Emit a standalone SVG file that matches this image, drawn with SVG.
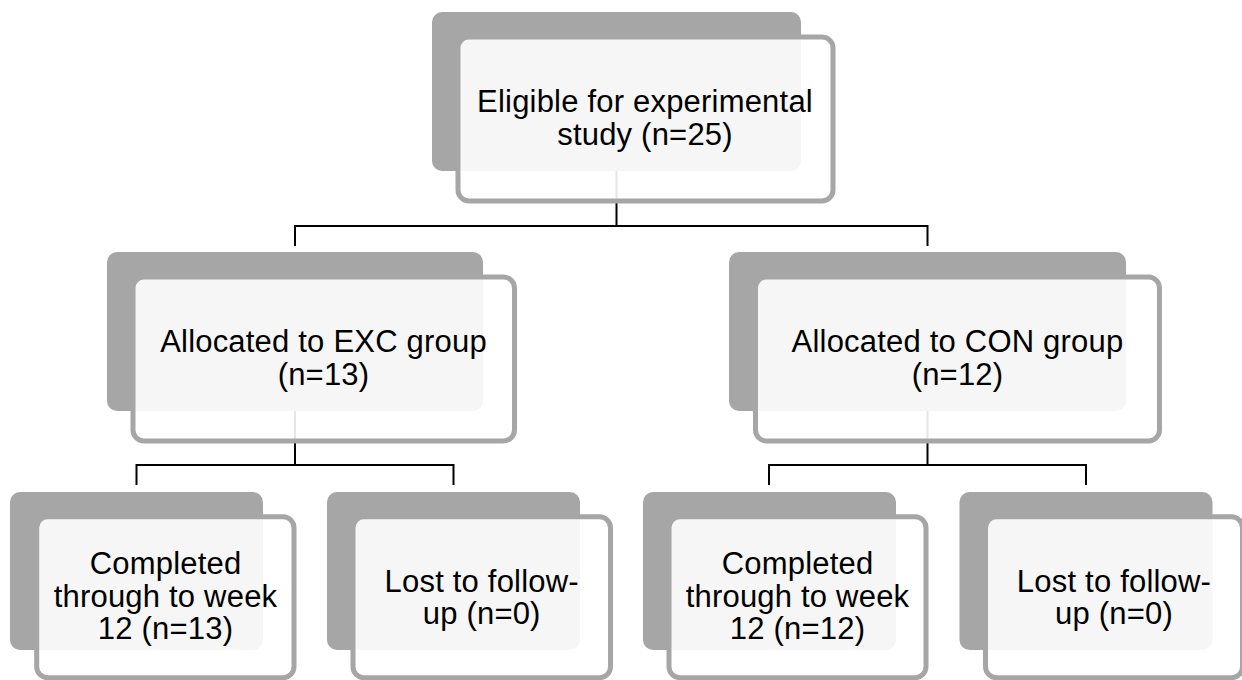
<svg xmlns="http://www.w3.org/2000/svg" width="1242" height="680" viewBox="0 0 1242 680">
<style>
.back{fill:#a6a6a6;stroke:none}
.front{fill:#ffffff;fill-opacity:0.9;stroke:#a6a6a6;stroke-width:5}
.lbl{font-family:"Liberation Sans",Arial,sans-serif;font-size:31px;fill:#000;text-anchor:middle;letter-spacing:0.2px}
.conn{fill:none;stroke:#000;stroke-width:2}
</style>
<rect width="1242" height="680" fill="#ffffff"/>
<g id="connectors">
<path class="conn" d="M295 246 V226 H927.5 V246 M616.5 171 V226"/>
<path class="conn" d="M295 411 V465 M136.5 485 V465 H453.5 V485"/>
<path class="conn" d="M927.5 411 V465 M769 485 V465 H1086 V485"/>
</g>
<g id="eligible">
<rect class="back" x="432" y="12" width="369" height="159" rx="10"/>
<rect class="front" x="458" y="37" width="375" height="164" rx="11"/>
<text class="lbl" x="645" y="112">Eligible for experimental</text>
<text class="lbl" x="645" y="145">study (n=25)</text>
</g>
<g id="exc">
<rect class="back" x="107" y="252" width="376" height="159" rx="10"/>
<rect class="front" x="133" y="277" width="381.5" height="164" rx="11"/>
<text class="lbl" x="323.5" y="352">Allocated to EXC group</text>
<text class="lbl" x="323.5" y="385">(n=13)</text>
</g>
<g id="con">
<rect class="back" x="729" y="252" width="397" height="159" rx="10"/>
<rect class="front" x="755.5" y="277" width="404" height="164" rx="11"/>
<text class="lbl" x="957.5" y="352">Allocated to CON group</text>
<text class="lbl" x="957.5" y="385">(n=12)</text>
</g>
<g id="exc-completed">
<rect class="back" x="10" y="492" width="253" height="158" rx="10"/>
<rect class="front" x="36.7" y="516.7" width="257.3" height="161" rx="11"/>
<text class="lbl" x="165.5" y="574">Completed</text>
<text class="lbl" x="165.5" y="606.5">through to week</text>
<text class="lbl" x="165.5" y="638.5">12 (n=13)</text>
</g>
<g id="exc-lost">
<rect class="back" x="327" y="492" width="253" height="158" rx="10"/>
<rect class="front" x="353" y="516.7" width="257.5" height="161" rx="11"/>
<text class="lbl" x="481.7" y="591.5">Lost to follow-</text>
<text class="lbl" x="481.7" y="623.5">up (n=0)</text>
</g>
<g id="con-completed">
<rect class="back" x="643" y="492" width="253" height="158" rx="10"/>
<rect class="front" x="669" y="516.7" width="257" height="161" rx="11"/>
<text class="lbl" x="797.5" y="574">Completed</text>
<text class="lbl" x="797.5" y="606.5">through to week</text>
<text class="lbl" x="797.5" y="638.5">12 (n=12)</text>
</g>
<g id="con-lost">
<rect class="back" x="959.5" y="492" width="253" height="158" rx="10"/>
<rect class="front" x="985.5" y="516.7" width="257" height="161" rx="11"/>
<text class="lbl" x="1114" y="591.5">Lost to follow-</text>
<text class="lbl" x="1114" y="623.5">up (n=0)</text>
</g>
</svg>
